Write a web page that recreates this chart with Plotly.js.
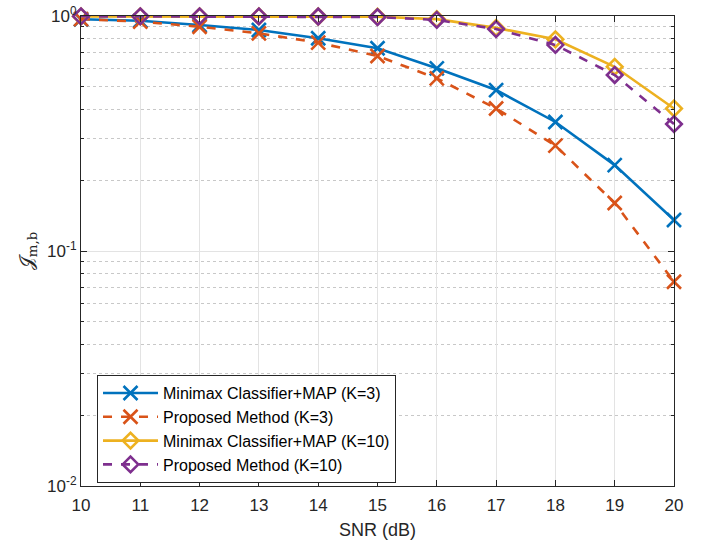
<!DOCTYPE html>
<html>
<head>
<meta charset="utf-8">
<script src="https://cdn.plot.ly/plotly-3.0.1.min.js"></script>
<style>html,body{margin:0;padding:0;background:#fff;}#chart{width:711px;height:542px;}</style>
</head>
<body>
<div id="chart"></div>
<script>
const snr = [10, 11, 12, 13, 14, 15, 16, 17, 18, 19, 20];
const minimaxK3 = [0.968, 0.955, 0.915, 0.872, 0.804, 0.729, 0.599, 0.484, 0.354, 0.232, 0.1355];
const proposedK3 = [0.970, 0.946, 0.900, 0.844, 0.770, 0.676, 0.543, 0.404, 0.281, 0.160, 0.074];
const minimaxK10 = [0.996, 0.996, 0.996, 0.996, 0.995, 0.993, 0.970, 0.890, 0.796, 0.608, 0.404];
const proposedK10 = [0.997, 0.997, 0.997, 0.996, 0.995, 0.990, 0.962, 0.880, 0.753, 0.561, 0.347];
const names = ['Minimax Classifier+MAP (K=3)', 'Proposed Method (K=3)', 'Minimax Classifier+MAP (K=10)', 'Proposed Method (K=10)'];
const colors = ['#0072BD', '#D95319', '#EDB120', '#7E2F8E'];
const yTickVals = [0.01, 0.1, 1];
const yTickText = ['10<sup>-2</sup>', '10<sup>-1</sup>', '10<sup>0</sup>'];
const yMinorVals = [0.02, 0.03, 0.04, 0.05, 0.06, 0.07, 0.08, 0.09, 0.2, 0.3, 0.4, 0.5, 0.6, 0.7, 0.8, 0.9];

function tr(y, i, dash, sym) {
  return {
    x: snr, y: y, name: names[i], type: 'scatter', mode: 'lines+markers',
    cliponaxis: false,
    line: {color: colors[i], width: 2.6, dash: dash},
    marker: {symbol: sym, size: sym.startsWith('x') ? 14 : 12, color: colors[i],
             line: {color: colors[i], width: 2.6}}
  };
}
const data = [
  tr(minimaxK3, 0, 'solid', 'x-thin'),
  tr(proposedK3, 1, 'dash', 'x-thin'),
  tr(minimaxK10, 2, 'solid', 'diamond-open'),
  tr(proposedK10, 3, 'dash', 'diamond-open')
];
const font = 'Liberation Sans, Arial, sans-serif';
const axisCommon = {
  showline: true, linecolor: '#262626', linewidth: 1, mirror: 'ticks',
  ticks: 'inside', ticklen: 6, tickcolor: '#262626',
  showgrid: true, gridcolor: '#e3e3e3', gridwidth: 1, zeroline: false,
  tickfont: {family: font, size: 17, color: '#262626'}
};
const layout = {
  width: 711, height: 542,
  margin: {l: 81, r: 37, t: 16, b: 56},
  paper_bgcolor: '#fff', plot_bgcolor: '#fff',
  showlegend: true,
  xaxis: Object.assign({}, axisCommon, {
    range: [10, 20], dtick: 1, tick0: 10, ticklabelstandoff: 4,
    title: {text: 'SNR (dB)', font: {family: font, size: 18, color: '#262626'}, standoff: 8}
  }),
  yaxis: Object.assign({}, axisCommon, {
    type: 'log', range: [-2, 0], tickmode: 'array', tickvals: yTickVals, ticktext: yTickText,
    minor: {tickmode: 'array', tickvals: yMinorVals, showgrid: true, griddash: 'dot', gridcolor: '#c8c8c8', ticks: 'inside', ticklen: 3, tickcolor: '#262626'},
    title: {text: '𝒥<sub>m,b</sub>', font: {family: 'DejaVu Serif, serif', size: 19, color: '#262626'}, standoff: 8}
  }),
  legend: {
    x: 0.027, y: 0.236, xanchor: 'left', yanchor: 'top',
    bgcolor: '#fff', bordercolor: '#262626', borderwidth: 1,
    font: {family: font, size: 16, color: '#000'},
    itemwidth: 55, tracegroupgap: 0
  }
};
Plotly.newPlot('chart', data, layout, {displayModeBar: false, staticPlot: true});
</script>
</body>
</html>
